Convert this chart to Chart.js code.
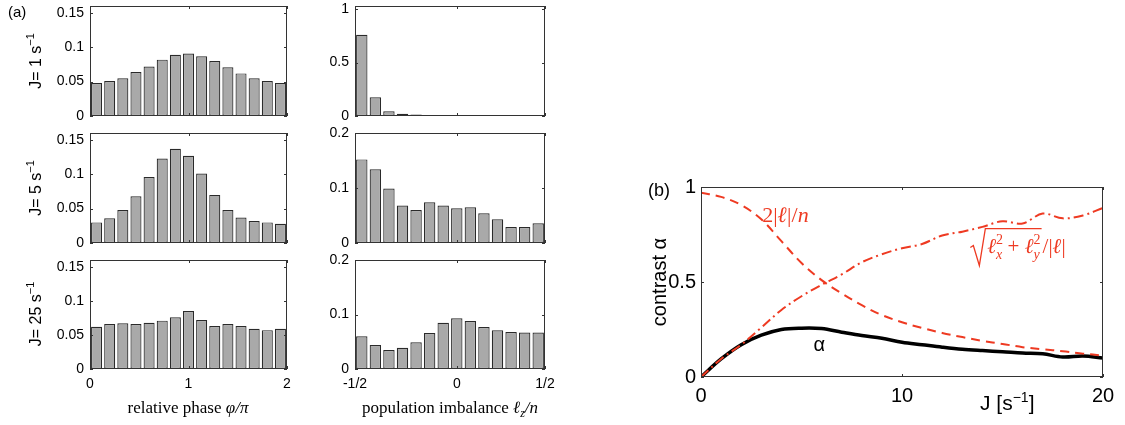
<!DOCTYPE html>
<html>
<head>
<meta charset="utf-8">
<script src="https://cdn.jsdelivr.net/npm/chart.js@4.4.0/dist/chart.umd.min.js"></script>
<style>
body{margin:0;background:#fff;width:1125px;height:425px;position:relative;overflow:hidden}
canvas{position:absolute}
</style>
</head>
<body>
<canvas id="ph1"></canvas>
<canvas id="ph5"></canvas>
<canvas id="ph25"></canvas>
<canvas id="im1"></canvas>
<canvas id="im5"></canvas>
<canvas id="im25"></canvas>
<canvas id="contrast"></canvas>
<script>
// histograms (a): relative phase, 15 bins from 0 to 2
const phaseTicks = ['0', '1', '2'];
const phaseJ1 = [0.048, 0.051, 0.055, 0.064, 0.072, 0.082, 0.089, 0.091, 0.087, 0.080, 0.071, 0.062, 0.055, 0.051, 0.048];
const phaseJ5 = [0.030, 0.036, 0.048, 0.068, 0.096, 0.123, 0.137, 0.127, 0.101, 0.070, 0.048, 0.037, 0.032, 0.030, 0.028];
const phaseJ25 = [0.062, 0.066, 0.067, 0.066, 0.068, 0.071, 0.076, 0.085, 0.072, 0.063, 0.066, 0.063, 0.059, 0.057, 0.059];
const phaseYTicks = [0, 0.05, 0.1, 0.15];

// histograms (a): population imbalance, 14 bins
const imbTicks = ['-1/2', '0', '1/2'];
const imbJ1 = [0.76, 0.175, 0.045, 0.022, 0.013, 0.004, 0, 0, 0, 0, 0, 0, 0, 0];
const imbJ5 = [0.152, 0.134, 0.099, 0.068, 0.060, 0.074, 0.068, 0.063, 0.065, 0.054, 0.043, 0.029, 0.029, 0.036];
const imbJ25 = [0.060, 0.044, 0.035, 0.039, 0.049, 0.066, 0.085, 0.093, 0.088, 0.077, 0.071, 0.068, 0.067, 0.067];
const imbYTicksTop = [0, 0.5, 1];
const imbYTicks = [0, 0.1, 0.2];

const rowLabels = ['1', '5', '25'];

// panel (b): contrast vs J
const J = [0, 1, 2, 3, 4, 5, 6, 7, 8, 9, 10, 11, 12, 13, 14, 15, 16, 17, 18, 19, 20];
const alpha = [0, 0.095, 0.17, 0.22, 0.25, 0.257, 0.255, 0.236, 0.218, 0.204, 0.183, 0.17, 0.157, 0.146, 0.139, 0.133, 0.126, 0.122, 0.105, 0.11, 0.1];
const ellNorm = [0.97, 0.948, 0.905, 0.83, 0.715, 0.6, 0.51, 0.44, 0.378, 0.326, 0.288, 0.258, 0.232, 0.21, 0.19, 0.174, 0.157, 0.146, 0.136, 0.123, 0.113];
const transverse = [0, 0.095, 0.17, 0.26, 0.353, 0.425, 0.485, 0.54, 0.604, 0.646, 0.678, 0.7, 0.745, 0.765, 0.79, 0.82, 0.808, 0.86, 0.835, 0.85, 0.89];
const jTicks = [0, 10, 20];
const contrastTicks = [0, 0.5, 1];

const SANS = '"Liberation Sans", Arial, sans-serif';
const SERIF = '"Liberation Serif", "Times New Roman", serif';
const RED = '#ee3a22';

// size a canvas and work out padding so the plot area lands where wanted
function place(id, box, area) {
  const c = document.getElementById(id);
  c.width = box[2]; c.height = box[3];
  c.style.left = box[0] + 'px'; c.style.top = box[1] + 'px';
  c.style.width = box[2] + 'px'; c.style.height = box[3] + 'px';
  return {
    canvas: c, box: box,
    yw: area[0] - box[0],
    top: area[1] - box[1],
    right: box[0] + box[2] - area[0] - area[2],
    xh: box[1] + box[3] - area[1] - area[3]
  };
}

// fixed axis sizes, no extra room asked for overhanging labels
function fitX(h) {
  return s => { s.height = h; s.paddingLeft = 0; s.paddingRight = 0; s.paddingTop = 0; s.paddingBottom = 0; };
}
function fitY(w) {
  return s => { s.width = w; s.paddingLeft = 0; s.paddingRight = 0; s.paddingTop = 0; s.paddingBottom = 0; };
}

// write text made of pieces: [text, font, dy, noAdvance]
function rich(ctx, x, y, parts, align) {
  let w = 0;
  parts.forEach(p => { ctx.font = p[1]; if (!p[3]) w += ctx.measureText(p[0]).width; });
  let cx = align === 'center' ? x - w / 2 : align === 'right' ? x - w : x;
  parts.forEach(p => {
    ctx.font = p[1];
    ctx.fillText(p[0], cx, y + (p[2] || 0));
    if (!p[3]) cx += ctx.measureText(p[0]).width;
  });
  return cx;
}

// box round the plot with short inward ticks, plus any extra drawing
function frame(extra) {
  return {
    id: 'frame',
    afterDatasetsDraw(chart) {
      const ctx = chart.ctx, a = chart.chartArea, x = chart.scales.x, y = chart.scales.y;
      ctx.save();
      ctx.strokeStyle = '#333';
      ctx.lineWidth = 1;
      ctx.strokeRect(a.left + 0.5, a.top + 0.5, a.right - a.left - 1, a.bottom - a.top - 1);
      ctx.beginPath();
      y.ticks.forEach(t => {
        const py = Math.round(y.getPixelForValue(t.value)) + 0.5;
        ctx.moveTo(a.left, py); ctx.lineTo(a.left + 3, py);
        ctx.moveTo(a.right, py); ctx.lineTo(a.right - 3, py);
      });
      x.ticks.forEach(t => {
        const px = Math.round(x.getPixelForValue(t.value)) + 0.5;
        ctx.moveTo(px, a.top); ctx.lineTo(px, a.top + 3);
        ctx.moveTo(px, a.bottom); ctx.lineTo(px, a.bottom - 3);
      });
      ctx.stroke();
      ctx.fillStyle = '#000';
      ctx.textBaseline = 'alphabetic';
      if (extra) extra(chart, ctx);
      ctx.restore();
    }
  };
}

function jLabel(ctx, cx, cy, label) {
  ctx.save();
  ctx.translate(cx, cy);
  ctx.rotate(-Math.PI / 2);
  rich(ctx, 0, 6, [['J= ' + label + ' s', '16px ' + SANS], ['\u22121', '11px ' + SANS, -7]], 'center');
  ctx.restore();
}

function histogram(id, box, area, values, yMax, yTicks, xLabels, xMax, zeroAt, showX, extra) {
  const p = place(id, box, area);
  const xVals = [0, zeroAt, xMax];
  return new Chart(p.canvas, {
    type: 'bar',
    data: {
      datasets: [{
        data: values.map((v, i) => ({ x: i + 0.5, y: v })),
        backgroundColor: '#a9a9a9',
        borderColor: '#2a2a2a',
        borderWidth: 1.2,
        borderSkipped: false,
        categoryPercentage: 1,
        barPercentage: 0.84
      }]
    },
    options: {
      responsive: false,
      devicePixelRatio: 1,
      animation: false,
      layout: { padding: { top: p.top, right: p.right, left: 0, bottom: 0 } },
      plugins: { legend: { display: false }, tooltip: { enabled: false } },
      scales: {
        x: {
          type: 'linear', min: 0, max: xMax, offset: false,
          grid: { display: false, drawTicks: false, offset: false },
          border: { display: false },
          afterBuildTicks: s => { s.ticks = xVals.map(v => ({ value: v })); },
          ticks: {
            display: showX, padding: 7, color: '#000', maxRotation: 0, autoSkip: false,
            font: { family: SANS, size: 14 },
            callback: (v, i) => xLabels[i]
          },
          afterFit: fitX(p.xh)
        },
        y: {
          min: 0, max: yMax,
          grid: { display: false, drawTicks: false },
          border: { display: false },
          afterBuildTicks: s => { s.ticks = yTicks.map(v => ({ value: v })); },
          ticks: {
            padding: 6, color: '#000',
            font: { family: SANS, size: 14 },
            callback: v => String(v)
          },
          afterFit: fitY(p.yw)
        }
      }
    },
    plugins: [frame(extra)]
  });
}

// left column: relative phase
histogram('ph1', [0, 0, 296, 120], [90, 6, 197, 110], phaseJ1, 0.16, phaseYTicks, phaseTicks, 15, 7.5, false,
  (c, ctx) => {
    ctx.font = '15px ' + SANS;
    ctx.fillText('(a)', 8, 17);
    jLabel(ctx, 35, 61, rowLabels[0]);
  });
histogram('ph5', [0, 125, 296, 122], [90, 133, 197, 110], phaseJ5, 0.16, phaseYTicks, phaseTicks, 15, 7.5, false,
  (c, ctx) => { jLabel(ctx, 35, 63, rowLabels[1]); });
histogram('ph25', [0, 252, 296, 173], [90, 260, 197, 109], phaseJ25, 0.16, phaseYTicks, phaseTicks, 15, 7.5, true,
  (c, ctx) => {
    jLabel(ctx, 35, 62, rowLabels[2]);
    ctx.fillStyle = '#000';
    rich(ctx, 188, 161, [['relative phase ', '17px ' + SERIF], ['\u03c6/\u03c0', 'italic 17px ' + SERIF]], 'center');
  });

// right column: population imbalance
histogram('im1', [300, 0, 262, 120], [355, 6, 190, 110], imbJ1, 1.03, imbYTicksTop, imbTicks, 14, 7.5, false, null);
histogram('im5', [300, 125, 262, 122], [355, 133, 190, 110], imbJ5, 0.2, imbYTicks, imbTicks, 14, 7.5, false, null);
histogram('im25', [300, 252, 262, 173], [355, 260, 190, 109], imbJ25, 0.2, imbYTicks, imbTicks, 14, 7.5, true,
  (c, ctx) => {
    rich(ctx, 150, 161, [
      ['population imbalance ', '17px ' + SERIF],
      ['\u2113', 'italic 17px ' + SERIF],
      ['z', 'italic 12px ' + SERIF, 4],
      ['/n', 'italic 17px ' + SERIF]
    ], 'center');
  });

// panel (b)
const pb = place('contrast', [640, 170, 485, 255], [701, 187, 402, 190]);
const pts = arr => arr.map((v, i) => ({ x: J[i], y: v }));
new Chart(pb.canvas, {
  type: 'line',
  data: {
    datasets: [
      { data: pts(transverse), borderColor: RED, borderWidth: 2, borderDash: [10, 4, 2, 4], pointRadius: 0, tension: 0.35, order: 0 },
      { data: pts(ellNorm), borderColor: RED, borderWidth: 2, borderDash: [9, 6], pointRadius: 0, tension: 0.35, order: 1 },
      { data: pts(alpha), borderColor: '#000', borderWidth: 3.5, pointRadius: 0, tension: 0.35, order: 2 }
    ]
  },
  options: {
    responsive: false,
    devicePixelRatio: 1,
    animation: false,
    layout: { padding: { top: pb.top, right: pb.right, left: 0, bottom: 0 } },
    plugins: { legend: { display: false }, tooltip: { enabled: false } },
    scales: {
      x: {
        type: 'linear', min: 0, max: 20,
        grid: { display: false, drawTicks: false },
        border: { display: false },
        afterBuildTicks: s => { s.ticks = jTicks.map(v => ({ value: v })); },
        ticks: { padding: 7, color: '#000', maxRotation: 0, font: { family: SANS, size: 20 } },
        afterFit: fitX(pb.xh)
      },
      y: {
        min: 0, max: 1,
        grid: { display: false, drawTicks: false },
        border: { display: false },
        afterBuildTicks: s => { s.ticks = contrastTicks.map(v => ({ value: v })); },
        ticks: { padding: 5, color: '#000', font: { family: SANS, size: 20 }, callback: v => String(v) },
        afterFit: fitY(pb.yw)
      }
    }
  },
  plugins: [frame((c, ctx) => {
    const X = v => c.scales.x.getPixelForValue(v), Y = v => c.scales.y.getPixelForValue(v);
    ctx.fillStyle = '#000';
    ctx.font = '18px ' + SANS;
    ctx.fillText('(b)', 8, 26);
    ctx.save();
    ctx.translate(19, 112);
    ctx.rotate(-Math.PI / 2);
    ctx.font = '20px ' + SANS;
    ctx.textAlign = 'center';
    ctx.fillText('contrast \u03b1', 0, 7);
    ctx.restore();
    rich(ctx, 340, 240, [['J [s', '21px ' + SANS], ['\u22121', '14px ' + SANS, -8], [']', '21px ' + SANS]], 'left');
    ctx.font = '20px ' + SANS;
    ctx.fillText('\u03b1', X(5.6), Y(0.135));
    // annotations in red
    ctx.fillStyle = RED;
    rich(ctx, X(3.05), Y(0.815), [
      ['2|', '22px ' + SERIF],
      ['\u2113', 'bold italic 22px ' + SERIF],
      ['|/', '22px ' + SERIF],
      ['n', 'italic 22px ' + SERIF]
    ], 'left');
    const bx = X(13.4), by = Y(0.655);
    const end = rich(ctx, bx + 17, by, [
      ['\u2113', 'italic 21px ' + SERIF],
      ['2', '14px ' + SERIF, -9, true],
      ['x', 'italic 14px ' + SERIF, 6],
      [' + ', '21px ' + SERIF],
      ['\u2113', 'italic 21px ' + SERIF],
      ['2', '14px ' + SERIF, -9, true],
      ['y', 'italic 14px ' + SERIF, 6]
    ], 'left');
    ctx.strokeStyle = RED;
    ctx.lineWidth = 1.3;
    ctx.beginPath();
    ctx.moveTo(bx, by - 5);
    ctx.lineTo(bx + 3, by - 7);
    ctx.lineTo(bx + 9, by + 13);
    ctx.lineTo(bx + 15, by - 24);
    ctx.lineTo(end + 2, by - 24);
    ctx.stroke();
    rich(ctx, end + 3, by, [
      ['/|', '21px ' + SERIF],
      ['\u2113', 'bold italic 21px ' + SERIF],
      ['|', '21px ' + SERIF]
    ], 'left');
  })]
});
</script>
</body>
</html>
